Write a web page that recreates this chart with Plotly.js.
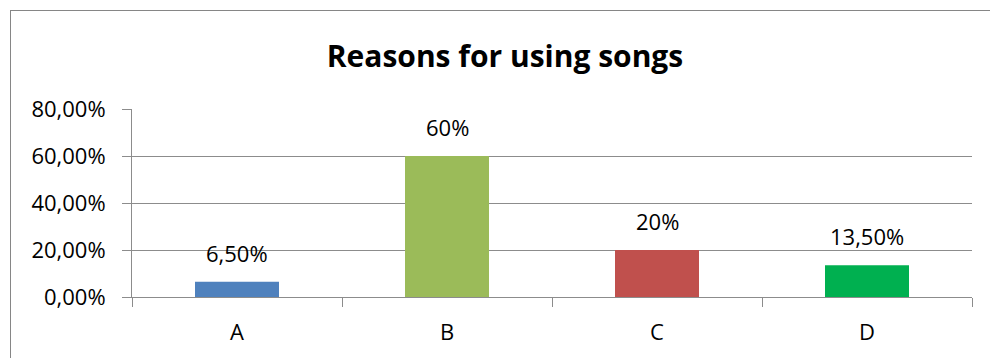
<!DOCTYPE html>
<html>
<head>
<meta charset="utf-8">
<script src="https://cdn.plot.ly/plotly-3.0.1.min.js"></script>
<style>
  html, body { margin: 0; padding: 0; background: #ffffff; overflow: hidden; }
  #wrap { position: relative; width: 990px; height: 358px; }
  #frame { position: absolute; left: 10px; top: 10px; width: 1200px; height: 600px;
           border-left: 1px solid #868686; border-top: 1px solid #868686; pointer-events: none; }
  #chart { position: absolute; left: 0; top: 0; width: 990px; height: 358px; }
</style>
</head>
<body>
<div id="wrap">
  <div id="frame"></div>
  <div id="chart"></div>
</div>
<script>
const categories = ['A', 'B', 'C', 'D'];
const values = [0.065, 0.60, 0.20, 0.135];
const valueLabels = ['6,50%', '60%', '20%', '13,50%'];
const barColors = ['#4F81BD', '#9BBB59', '#C0504D', '#00B050'];
const chartTitle = 'Reasons for using songs';
const yTicks = [0, 0.2, 0.4, 0.6, 0.8];

const FONT = '"Open Sans", "Noto Sans", sans-serif';
const GRID = '#8c8c8c';

const trace = {
  type: 'bar',
  x: categories,
  y: values,
  marker: { color: barColors, line: { width: 0 } },
  hoverinfo: 'none'
};

const annotations = categories.map((c, i) => ({
  x: c, y: values[i], xref: 'x', yref: 'y',
  text: valueLabels[i], showarrow: false,
  yanchor: 'bottom', yshift: 12,
  font: { family: FONT, size: 22, color: '#000000' }
}));

const layout = {
  width: 990, height: 358,
  margin: { l: 132, r: 18, t: 109.3, b: 60.7, pad: 0 },
  paper_bgcolor: 'rgba(0,0,0,0)',
  plot_bgcolor: 'rgba(0,0,0,0)',
  separators: ',.',
  showlegend: false,
  bargap: 0.6,
  title: {
    text: '<b>' + chartTitle + '</b>',
    font: { family: FONT, size: 30, color: '#000000' },
    x: 505 / 990, xref: 'container', xanchor: 'center',
    y: 1 - 56 / 358, yref: 'container', yanchor: 'middle'
  },
  xaxis: {
    type: 'category',
    showgrid: false,
    showline: true, linecolor: GRID, linewidth: 1,
    ticks: 'outside', ticklen: 9, tickcolor: GRID, tickwidth: 1,
    tickson: 'boundaries',
    tickfont: { family: FONT, size: 22, color: '#000000' },
    ticklabelstandoff: 16,
    zeroline: false,
    fixedrange: true
  },
  yaxis: {
    range: [0, 0.8],
    tickvals: yTicks,
    tickformat: '.2%',
    showgrid: true, gridcolor: GRID, gridwidth: 1,
    showline: true, linecolor: GRID, linewidth: 1,
    ticks: 'outside', ticklen: 9, tickcolor: GRID, tickwidth: 1,
    tickfont: { family: FONT, size: 22, color: '#000000' },
    ticklabelstandoff: 12,
    zeroline: false,
    fixedrange: true
  },
  annotations: annotations
};

Plotly.newPlot('chart', [trace], layout, { displayModeBar: false, staticPlot: true });
</script>
</body>
</html>
